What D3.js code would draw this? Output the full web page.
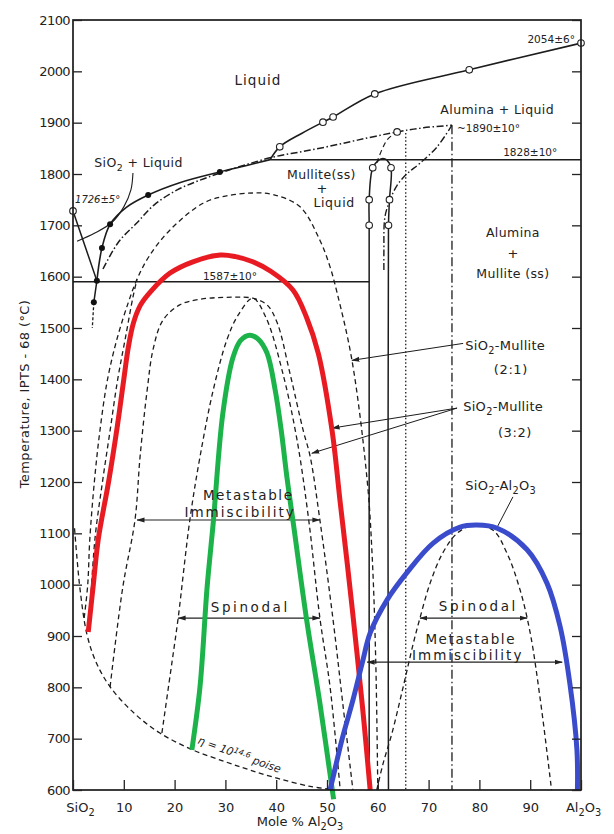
<!DOCTYPE html>
<html>
<head>
<meta charset="utf-8">
<script src="https://cdn.jsdelivr.net/npm/d3@7"></script>
<style>
  body { margin: 0; background: #fff; }
  svg { display: block; }
  text { font-family: "DejaVu Sans", sans-serif; fill: #222; }
</style>
</head>
<body>
<script>
'use strict';

// axes
const tickPct = [0, 10, 20, 30, 40, 50, 60, 70, 80, 90, 100];
const tickPctLabels = ['SiO_2', '10', '20', '30', '40', '50', '60', '70', '80', '90', 'Al_2O_3'];
const tickTemp = [600, 700, 800, 900, 1000, 1100, 1200, 1300, 1400, 1500, 1600, 1700, 1800, 1900, 2000, 2100];

// [mole % Al2O3, temperature °C]
const liqAlumina = [[38.8, 1828], [40.7, 1853], [45, 1879], [49.2, 1901], [51.2, 1911], [59.4, 1956], [78, 2003], [100, 2055]];
const liqSilica = [[0, 1728], [4.7, 1592], [4.1, 1550]];
const liqSilicaMeta = [[4.1, 1550], [3.8, 1500]];
const liqMullite = [[4.7, 1592], [5.7, 1656], [7.3, 1702], [10.5, 1735], [14.8, 1759], [21, 1783], [28.9, 1804], [34, 1816], [38.8, 1828]];
const leaderSilicaLiq = [[11.8, 1802], [11.4, 1769], [10, 1736], [7.7, 1706], [4.3, 1685], [0.8, 1669]];
const liqMulliteMeta = [[5.9, 1615], [9, 1668], [12.6, 1705], [16, 1740], [20.5, 1769], [25, 1788], [29, 1802], [34, 1818], [39.4, 1833], [44.7, 1843], [50, 1853], [56, 1866], [63.8, 1882], [69, 1890], [74.6, 1895]];
const liqAluminaMeta = [[74.6, 1895], [71.6, 1852], [68.3, 1821], [65.7, 1800], [63.8, 1778], [62.4, 1749], [61.4, 1716], [61.2, 1650], [61.2, 1612]];
const arcToPeak = [[59.8, 1822], [61.8, 1866], [63.8, 1882]];
const dottedVert = [[65.5, 1880], [65.5, 600]];
const dashDotVert = [[74.6, 1895], [74.6, 600]];
const mulliteSS = [[58.3, 600], [58.3, 1700], [58.3, 1750], [59.0, 1812], [60.2, 1827], [61.0, 1830], [61.8, 1827], [62.6, 1812], [62.3, 1750], [62.1, 1700], [62.1, 600]];
const eutecticLine = [[0, 1590], [58.3, 1590]];
const line1828 = [[38.8, 1828], [100, 1828]];

const isokom = [[0.3, 1110], [0.8, 1050], [1.4, 990], [2.7, 905], [4.5, 850], [7.3, 801], [12, 750], [17.1, 711], [23.6, 678], [30, 655], [34.8, 639], [40.5, 622], [46.7, 607], [51, 601]];
const binodal21 = [[2.2, 935], [2.9, 1000], [3.3, 1087], [4.2, 1200], [5.3, 1300], [6.8, 1400], [8.7, 1480], [10.9, 1550], [12.6, 1595], [15, 1640], [19.1, 1691], [25.6, 1743], [30, 1757], [35.4, 1763], [39.4, 1760], [44.7, 1736], [48.6, 1671], [50.6, 1619], [52, 1568], [54.9, 1438], [57.9, 1204], [58.9, 1054], [59.6, 850], [60, 600]];
const binodal21Inner = [[3.2, 920], [4.3, 1087], [5.8, 1200], [7.3, 1300], [8.8, 1400], [10.3, 1480], [11.8, 1560], [12.6, 1595]];
const binodal32 = [[7.3, 801], [9.8, 995], [12.2, 1126], [13.2, 1249], [14.6, 1379], [15.8, 1460], [17.7, 1515], [21, 1545], [25, 1556], [31.5, 1560], [35.4, 1558], [38.2, 1545], [40.2, 1510], [42.7, 1412], [45.3, 1301], [46.7, 1249], [48.6, 1126], [51.2, 931], [53.1, 769], [55.1, 600]];
const spinodal32 = [[17.5, 711], [19.5, 850], [20.7, 935], [23, 1126], [25, 1249], [27.6, 1379], [30.3, 1477], [32.5, 1525], [35.4, 1558], [38, 1520], [41.3, 1412], [44.1, 1282], [46.4, 1126], [48.6, 935], [50.6, 801], [52.6, 600]];
const spinodalAl = [[59.8, 600], [61, 650], [62.8, 711], [65, 801], [67, 886], [68.3, 935], [70.3, 1003], [72.8, 1062], [75.6, 1100], [78.8, 1116], [82.7, 1106], [85.4, 1062], [88, 990], [90, 906], [92, 775], [93.9, 625], [94.2, 600]];

const redCurve = [[3, 908], [4, 1000], [5, 1090], [7, 1200], [8.7, 1307], [10, 1400], [10.9, 1463], [11.9, 1510], [13.3, 1545], [15.2, 1570], [19.1, 1607], [23.6, 1629], [29, 1642], [32, 1639], [35.4, 1629], [39, 1610], [43.3, 1574], [46, 1520], [48.3, 1450], [51, 1300], [52.6, 1160], [54, 1040], [55.9, 867], [57.3, 730], [58.5, 600]];
const greenCurve = [[23.4, 678], [25, 801], [26.4, 995], [27.6, 1120], [29.5, 1334], [31.5, 1443], [33, 1476], [34.8, 1486], [36.5, 1478], [38.2, 1451], [39.8, 1379], [41, 1300], [42.1, 1210], [43.5, 1110], [46, 931], [48.6, 769], [51.3, 582]];
const blueCurve = [[50.6, 600], [51.2, 625], [53, 700], [55.1, 775], [57, 850], [58.5, 906], [61.8, 970], [65.7, 1023], [70.9, 1081], [76.2, 1112], [79.5, 1116], [83.5, 1110], [89.4, 1068], [93.3, 1003], [95.9, 918], [97.8, 808], [99.2, 678], [99.3, 600]];

const openPts = [[0, 1728], [40.7, 1853], [49.2, 1901], [51.2, 1911], [59.4, 1956], [78, 2003], [100, 2055], [63.8, 1882], [59.0, 1812], [58.3, 1750], [58.3, 1700], [62.6, 1812], [62.3, 1750], [62.1, 1700]];
const filledPts = [[4.7, 1592], [4.1, 1550], [5.7, 1656], [7.3, 1702], [14.8, 1759], [28.9, 1804]];

// double arrows: temperature, from %, to %
const arrows = [[1126, 12.6, 48.6], [935, 20.7, 48.6], [935, 68.3, 89.4], [849, 57.9, 96.3]];
// leader lines, start then tip
const leaders = [[[76.8, 1470], [54.9, 1437]], [[75.6, 1344], [51, 1305]], [[75.6, 1344], [47, 1256]]];
const leaderAl = [[86.6, 1171], [83.5, 1112]];

const W = 614, H = 834;
const x = d3.scaleLinear().domain([0, 100]).range([73, 581]);
const y = d3.scaleLinear().domain([600, 2100]).range([790, 20]);

const svg = d3.select('body').append('svg').attr('width', W).attr('height', H);

svg.append('defs').append('marker')
	.attr('id', 'arr')
	.attr('viewBox', '0 0 8 6')
	.attr('refX', 7.5).attr('refY', 3)
	.attr('markerWidth', 8).attr('markerHeight', 6)
	.attr('markerUnits', 'userSpaceOnUse')
	.attr('orient', 'auto-start-reverse')
	.append('path').attr('d', 'M0,0.5 L8,3 L0,5.5 Z').attr('fill', '#222');

// text with _n subscripts
function rich(t, str) {
	let sub = false;
	str.split(/(_\d)/).filter(s => s).forEach(s => {
		if (s[0] === '_') {
			t.append('tspan').attr('dy', sub ? 0 : 4).attr('font-size', '0.75em').text(s.slice(1));
			sub = true;
		} else {
			t.append('tspan').attr('dy', sub ? -4 : 0).text(s);
			sub = false;
		}
	});
	return t;
}

const smooth = d3.line().x(d => x(d[0])).y(d => y(d[1])).curve(d3.curveCatmullRom.alpha(0.5));
const straight = d3.line().x(d => x(d[0])).y(d => y(d[1]));

const plot = svg.append('g');
function draw(data, gen, width, dash) {
	return plot.append('path')
		.attr('d', gen(data))
		.attr('fill', 'none')
		.attr('stroke', '#1c1c1c')
		.attr('stroke-width', width)
		.attr('stroke-dasharray', dash || null);
}

const DASH = '5,3.5', DASHDOT = '7,2.5,1.5,2.5', DOT = '1.5,2.2';

// solid phase boundaries
draw(liqAlumina, smooth, 1.6);
draw(liqSilica, straight, 1.5);
draw(liqMullite, smooth, 1.6);
draw(leaderSilicaLiq, smooth, 1.1);
draw(mulliteSS, smooth, 1.5);
draw(eutecticLine, straight, 1.5);
draw(line1828, straight, 1.5);

// metastable / dash-dot
draw(liqSilicaMeta, straight, 1.3, '3,2');
draw(liqMulliteMeta, smooth, 1.5, DASHDOT);
draw(liqAluminaMeta, smooth, 1.4, DASHDOT);
draw(dashDotVert, straight, 1.3, '9,3,1.5,3');
draw(dottedVert, straight, 1.3, DOT);
draw(arcToPeak, smooth, 1.2, DASH);

// immiscibility domes
[isokom, binodal21, binodal21Inner, binodal32, spinodal32, spinodalAl].forEach(d => draw(d, smooth, 1.3, DASH));

// arrows and leaders
arrows.forEach(a => {
	plot.append('line')
		.attr('x1', x(a[1])).attr('x2', x(a[2]))
		.attr('y1', y(a[0])).attr('y2', y(a[0]))
		.attr('stroke', '#222').attr('stroke-width', 1.2)
		.attr('marker-start', 'url(#arr)').attr('marker-end', 'url(#arr)');
});
leaders.forEach(l => {
	draw(l, straight, 1).attr('marker-end', 'url(#arr)');
});
draw(leaderAl, straight, 1);

// coloured overlays
[[redCurve, '#e81b23'], [greenCurve, '#1db34b'], [blueCurve, '#3a4ccb']].forEach(c => {
	plot.append('path')
		.attr('d', smooth(c[0]))
		.attr('fill', 'none')
		.attr('stroke', c[1])
		.attr('stroke-width', 5);
});

// data points
plot.selectAll('circle.open').data(openPts).enter().append('circle')
	.attr('class', 'open')
	.attr('cx', d => x(d[0])).attr('cy', d => y(d[1])).attr('r', 3.3)
	.attr('fill', '#fff').attr('stroke', '#222').attr('stroke-width', 1.1);
plot.selectAll('circle.fill').data(filledPts).enter().append('circle')
	.attr('class', 'fill')
	.attr('cx', d => x(d[0])).attr('cy', d => y(d[1])).attr('r', 3)
	.attr('fill', '#111');

// frame and axes
svg.append('rect')
	.attr('x', x(0)).attr('y', y(2100))
	.attr('width', x(100) - x(0)).attr('height', y(600) - y(2100))
	.attr('fill', 'none').attr('stroke', '#1a1a1a').attr('stroke-width', 1.7);

const yAxis = svg.append('g')
	.attr('transform', `translate(${x(0)},0)`)
	.call(d3.axisLeft(y).tickValues(tickTemp).tickSize(-9).tickSizeOuter(0).tickPadding(3).tickFormat(d3.format('d')));
const yAxisR = svg.append('g')
	.attr('transform', `translate(${x(100)},0)`)
	.call(d3.axisRight(y).tickValues(tickTemp).tickSize(-9).tickSizeOuter(0).tickFormat(''));
const xAxis = svg.append('g')
	.attr('transform', `translate(0,${y(600)})`)
	.call(d3.axisBottom(x).tickValues(tickPct).tickSize(-10).tickSizeOuter(0).tickPadding(12).tickFormat(''));

[yAxis, yAxisR, xAxis].forEach(g => {
	g.select('.domain').remove();
	g.selectAll('line').attr('stroke', '#222').attr('stroke-width', 1.3);
});
yAxis.selectAll('text').attr('font-size', 13).attr('letter-spacing', -0.6).attr('fill', '#222');

xAxis.selectAll('.tick').each(function(d, i) {
	const t = d3.select(this).append('text')
		.attr('y', 22).attr('text-anchor', 'middle')
		.attr('font-size', 13).attr('fill', '#222')
		.attr('dx', i === 0 ? 7 : (i === tickPct.length - 1 ? 2 : 0));
	rich(t, tickPctLabels[i]);
});

const xl = svg.append('text').attr('x', 300).attr('y', 826).attr('text-anchor', 'middle').attr('font-size', 13);
rich(xl, 'Mole % Al_2O_3');
svg.append('text')
	.attr('transform', 'translate(29,394) rotate(-90)')
	.attr('text-anchor', 'middle').attr('font-size', 13).attr('letter-spacing', 0.4)
	.text('Temperature, IPTS - 68 (\u00B0C)');

// annotations placed in data units
function note(p, t, str, anchor, size, italic, spacing) {
	const el = svg.append('text')
		.attr('x', x(p)).attr('y', y(t))
		.attr('text-anchor', anchor)
		.attr('font-size', size)
		.attr('font-style', italic ? 'italic' : null)
		.attr('letter-spacing', spacing || 0);
	return rich(el, str);
}
note(36.4, 1973, 'Liquid', 'middle', 13.5, false, 1);
note(12.9, 1814, 'SiO_2 + Liquid', 'middle', 12.5, false, 0.4);
note(0.4, 1743, '1726\u00B15\u00B0', 'start', 10, true);
note(98.8, 2055, '2054\u00B16\u00B0', 'end', 10.5, false);
note(83.5, 1917, 'Alumina + Liquid', 'middle', 12.5, false, 0.4);
note(75.6, 1882, '~1890\u00B110\u00B0', 'start', 10.5, false);
note(90, 1835, '1828\u00B110\u00B0', 'middle', 10.5, false);
note(48.9, 1790, 'Mullite(ss)', 'middle', 12.5, false, 0.4);
note(49, 1763, '+', 'middle', 13, false);
note(51.4, 1736, 'Liquid', 'middle', 12.5, false, 0.6);
note(86.6, 1677, 'Alumina', 'middle', 12.5, false, 0.4);
note(86.6, 1636, '+', 'middle', 13, false);
note(86.6, 1597, 'Mullite (ss)', 'middle', 12.5, false, 0.4);
note(30.9, 1593, '1587\u00B110\u00B0', 'middle', 10.5, false);
note(77.2, 1457, 'SiO_2-Mullite', 'start', 13, false, 0.3);
note(86.2, 1410, '(2:1)', 'middle', 13, false, 0.6);
note(76.8, 1338, 'SiO_2-Mullite', 'start', 13, false, 0.3);
note(87, 1288, '(3:2)', 'middle', 13, false, 0.6);
note(77.2, 1184, 'SiO_2-Al_2O_3', 'start', 13, false, 0.3);
note(34.5, 1165, 'Metastable', 'middle', 13.5, false, 1.6);
note(32.9, 1132, 'Immiscibility', 'middle', 13.5, false, 2);
note(34.9, 947, 'Spinodal', 'middle', 13.5, false, 2.6);
note(79.8, 949, 'Spinodal', 'middle', 13.5, false, 2.6);
note(78.3, 884, 'Metastable', 'middle', 13.5, false, 1.6);
note(77.7, 853, 'Immiscibility', 'middle', 13.5, false, 2);

const iso = svg.append('text')
	.attr('transform', `translate(${x(32.5)},${y(662)}) rotate(20)`)
	.attr('text-anchor', 'middle').attr('font-size', 11).attr('font-style', 'italic');
iso.append('tspan').text('\u03B7 = 10');
iso.append('tspan').attr('dy', -4).attr('font-size', '0.72em').text('14.6');
iso.append('tspan').attr('dy', 4).text(' poise');
</script>
</body>
</html>
